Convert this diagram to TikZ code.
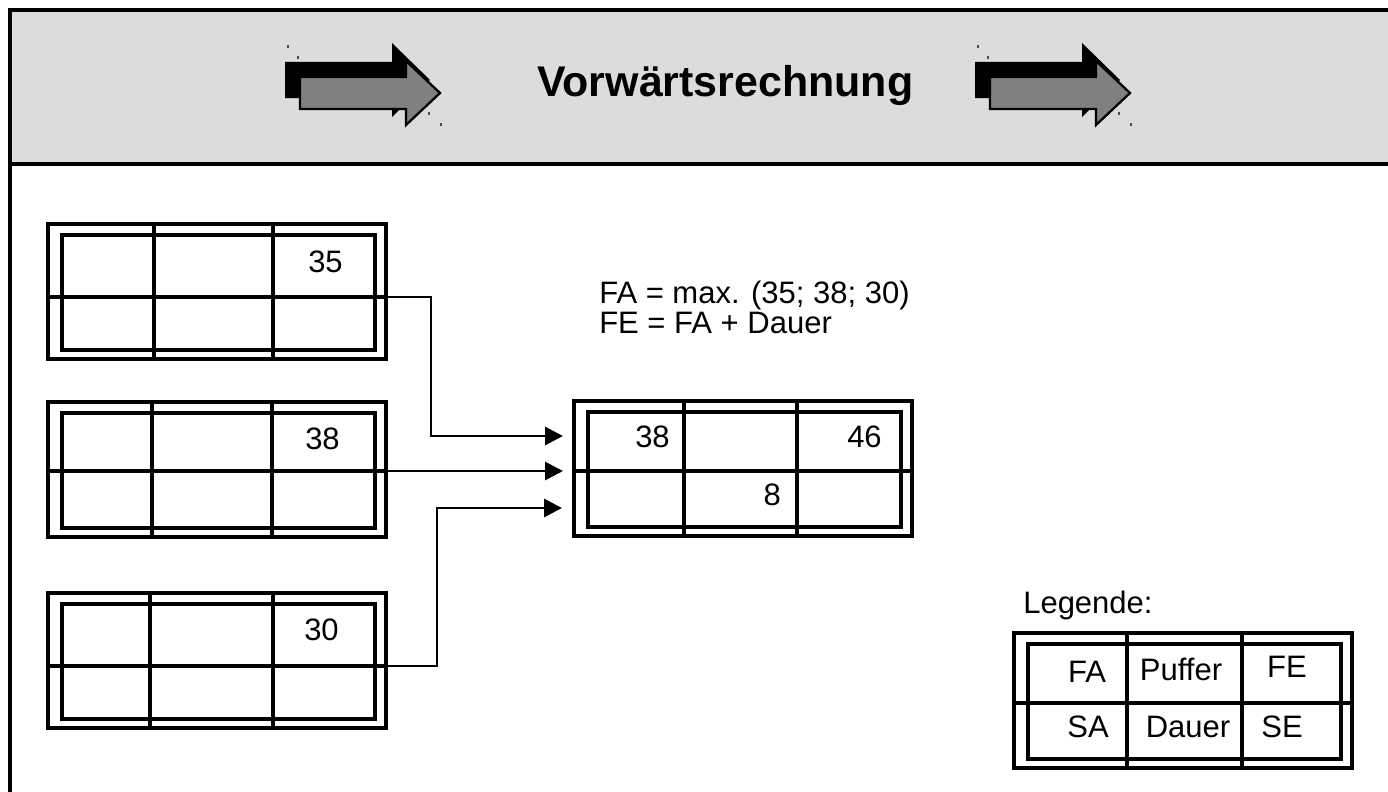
\documentclass[tikz,border=0pt]{standalone}
\usepackage{fontspec}
\setmainfont{Liberation Sans}
\usetikzlibrary{arrows.meta}
\definecolor{hdrgray}{RGB}{220,220,220}
\definecolor{arrgray}{RGB}{128,128,128}
\newcommand\nplbox[6]{%
  % #1 name, #2 left x, #3 top y, #4 middle y, #5 divider 1, #6 divider 2
  \node[outerbox, anchor=north west] (#1) at (#2,#3) {};
  \draw[innerln] (#2+14,#3+11) rectangle (#2+327,#3+126);
  \draw[divln] (#5,#3) -- (#5,#3+135);
  \draw[divln] (#6,#3) -- (#6,#3+135);
  \draw[divln] (#2+2,#4) -- (#2+336,#4);
  \coordinate (#1-m) at (#2+338,#4);
}
\newcommand\hdrarrow[2]{%
  \begin{scope}[shift={(#2,0)}]
    \fill[black] (285,62) -- (392,62) -- (392,43) -- (430,80) -- (392,117) -- (392,98) -- (285,98) -- cycle;
    \filldraw[fill=arrgray, draw=black, line width=1.7pt, miter limit=10]
      (300,77) -- (406,77) -- (406,61) -- (440,93) -- (406,125) -- (406,109) -- (300,109) -- cycle;
    \coordinate (#1) at (363,85);
    \draw[tick] (288,45) -- (288,48);
    \draw[tick] (298,56) -- (298,59);
    \draw[tick] (429,112) -- (429,115);
    \draw[tick] (441,123) -- (441,126);
  \end{scope}
}
\begin{document}
\begin{tikzpicture}[x=0.75pt,y=-0.75pt,
  outerbox/.style={draw, line width=3pt, minimum width=253.5pt, minimum height=101.25pt, inner sep=0pt, outer sep=0pt},
  innerln/.style={line width=2.5pt},
  divln/.style={line width=2.3pt},
  conn/.style={line width=2.2pt, -{Triangle[length=13.5pt,width=13.5pt]}},
  txt/.style={inner sep=0pt, font=\fontsize{23.25}{28}\selectfont},
  ttl/.style={inner sep=0pt, font=\fontsize{32.2}{38}\selectfont\bfseries},
  tick/.style={line width=0.8pt, black!70}
]
\useasboundingbox (0,0) rectangle (1388,792);
% header
\filldraw[fill=hdrgray, draw=black, line width=3pt] (10,10) rectangle (1400,164);
\draw[line width=3pt] (10,164) -- (10,800);
\hdrarrow{ha1}{0}
\hdrarrow{ha2}{690}
\node[ttl, anchor=base west] (title) at (537,97) {Vorwärtsrechnung};

% predecessor boxes
\nplbox{b1}{48}{224}{297}{154}{273}
\nplbox{b2}{48}{402}{471}{152}{272}
\nplbox{b3}{48}{593}{666}{150}{273}
\node[txt, anchor=base east] (v1) at (343,272) {35};
\node[txt, anchor=base east] (v2) at (340,449) {38};
\node[txt, anchor=base east] (v3) at (339,640) {30};

% target box
\nplbox{bt}{574}{401}{471}{684}{797}
\node[txt, anchor=base east] (fa) at (670,447) {38};
\node[txt, anchor=base east] (fe) at (882,447) {46};
\node[txt, anchor=base east] (du) at (781,505) {8};

% formulas
\node[txt, anchor=base west] (f1) at (599,303) {FA = max. (35; 38; 30)};
\node[txt, anchor=base west] (f2) at (599,333) {FE = FA + Dauer};

% connectors
\coordinate (t1) at (563,436);
\coordinate (t2) at (563,471);
\coordinate (t3) at (562,508);
\draw[conn] (b1-m) -- (431,297) |- (t1);
\draw[conn] (b2-m) -- (t2);
\draw[conn] (b3-m) -- (437,666) |- (t3);

% legend
\node[txt, anchor=base west] (leg) at (1023,613) {Legende:};
\nplbox{lg}{1014}{633}{703}{1127}{1242}
\node[txt, anchor=base] (l1) at (1087,682) {FA};
\node[txt, anchor=base] (l2) at (1181,680) {Puffer};
\node[txt, anchor=base] (l3) at (1287,677) {FE};
\node[txt, anchor=base] (l4) at (1088,737) {SA};
\node[txt, anchor=base] (l5) at (1188,737) {Dauer};
\node[txt, anchor=base] (l6) at (1282,737) {SE};
\end{tikzpicture}
\end{document}
